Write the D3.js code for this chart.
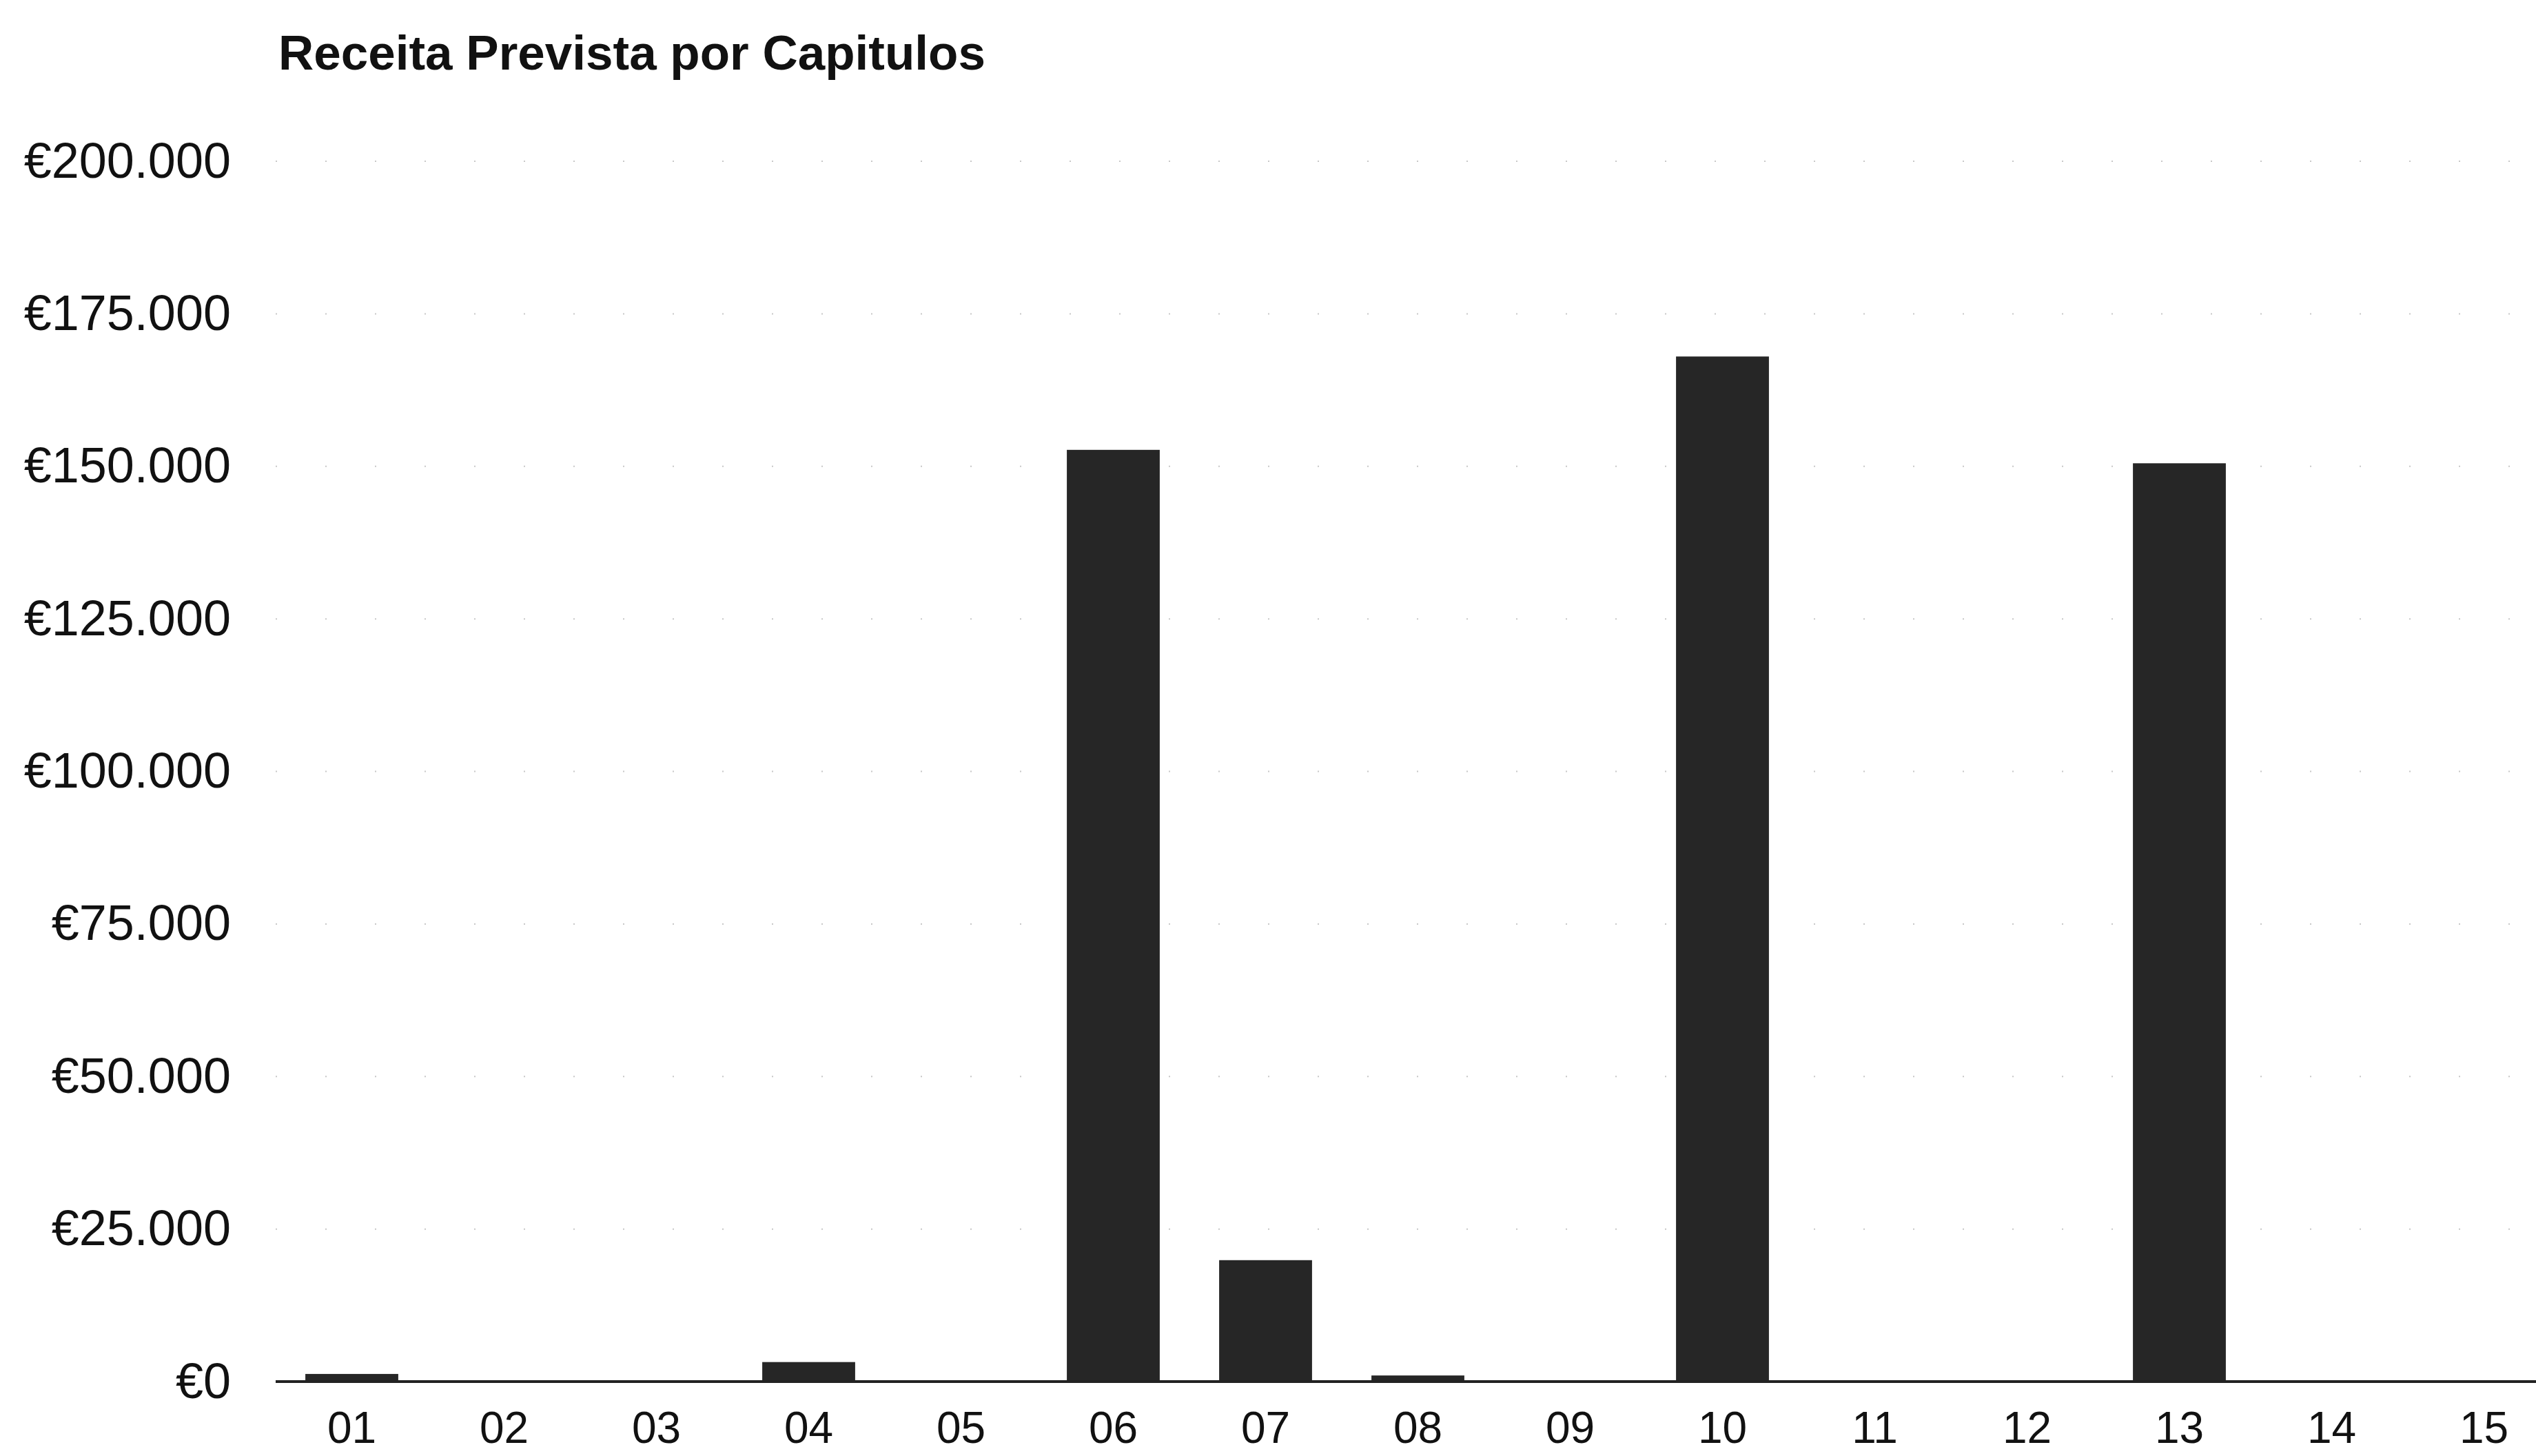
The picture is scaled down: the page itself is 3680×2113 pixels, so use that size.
<!DOCTYPE html>
<html lang="pt">

<head>
    <meta charset="utf-8">
    <title>Receita Prevista por Capitulos</title>
    <script src="https://d3js.org/d3.v7.min.js"></script>
    <style type="text/css">
        html, body { margin: 0; padding: 0; background: #fff; }
        svg { display: block; }
        text { font-family: "Liberation Sans", Arial, sans-serif; fill: #111; }
    </style>
</head>

<body>
    <script type="text/javascript">

        // Width and height
        var w = 3680,
            h = 2113;

        // data
        var capitulos = ["01", "02", "03", "04", "05", "06", "07", "08",
            "09", "10", "11", "12", "13", "14", "15"];
        var receita = [1250, 0, 0, 3200, 0, 152700, 19900, 1000,
            0, 168000, 0, 0, 150500, 0, 0];
        var yTicks = [0, 25000, 50000, 75000, 100000, 125000, 150000, 175000, 200000];

        var pt = d3.formatLocale({
            decimal: ",",
            thousands: ".",
            grouping: [3],
            currency: ["€", ""]
        });
        var euro = pt.format("$,.0f");

        var xScale = d3.scaleBand()
            .domain(capitulos)
            .range([400, 400 + 15 * 221])
            .paddingInner(0.39)
            .paddingOuter(0.195);

        var yScale = d3.scaleLinear()
            .domain([0, 200000])
            .range([2005, 234]);

        var svg = d3.select("body")
            .append("svg")
            .attr("width", w)
            .attr("height", h);

        // title
        svg.append("text")
            .attr("x", 404)
            .attr("y", 101)
            .attr("font-size", "71px")
            .attr("font-weight", "bold")
            .text("Receita Prevista por Capitulos");

        // faint dotted gridlines (barely visible in the scan)
        svg.append("g")
            .selectAll("line")
            .data(yTicks.slice(1))
            .enter()
            .append("line")
            .attr("x1", 400)
            .attr("x2", w)
            .attr("y1", function (d) { return yScale(d); })
            .attr("y2", function (d) { return yScale(d); })
            .attr("stroke", "#c8c8c8")
            .attr("stroke-width", 2)
            .attr("stroke-dasharray", "2 70");

        // bars
        svg.append("g")
            .selectAll("rect")
            .data(receita)
            .enter()
            .append("rect")
            .attr("x", function (d, i) { return xScale(capitulos[i]); })
            .attr("width", xScale.bandwidth())
            .attr("y", function (d) { return yScale(d); })
            .attr("height", function (d) { return yScale(0) - yScale(d); })
            .attr("fill", "#262626");

        // baseline
        svg.append("line")
            .attr("x1", 400)
            .attr("x2", w)
            .attr("y1", yScale(0))
            .attr("y2", yScale(0))
            .attr("stroke", "#222")
            .attr("stroke-width", 4);

        // y axis
        var yAxis = d3.axisLeft(yScale)
            .tickValues(yTicks)
            .tickFormat(euro)
            .tickSize(0)
            .tickPadding(65);

        svg.append("g")
            .attr("transform", "translate(400,0)")
            .call(yAxis)
            .call(function (g) { g.select(".domain").remove(); })
            .selectAll("text")
            .attr("font-size", "72px")
            .attr("font-family", "'Liberation Sans', Arial, sans-serif")
            .attr("fill", "#111");

        // x axis (labels kept inside the page bottom)
        var xAxis = d3.axisBottom(xScale)
            .tickSize(0)
            .tickPadding(44);

        svg.append("g")
            .attr("transform", "translate(0," + yScale(0) + ")")
            .call(xAxis)
            .call(function (g) { g.select(".domain").remove(); })
            .selectAll("text")
            .attr("font-size", "64px")
            .attr("font-family", "'Liberation Sans', Arial, sans-serif")
            .attr("fill", "#111");

    </script>
</body>

</html>
